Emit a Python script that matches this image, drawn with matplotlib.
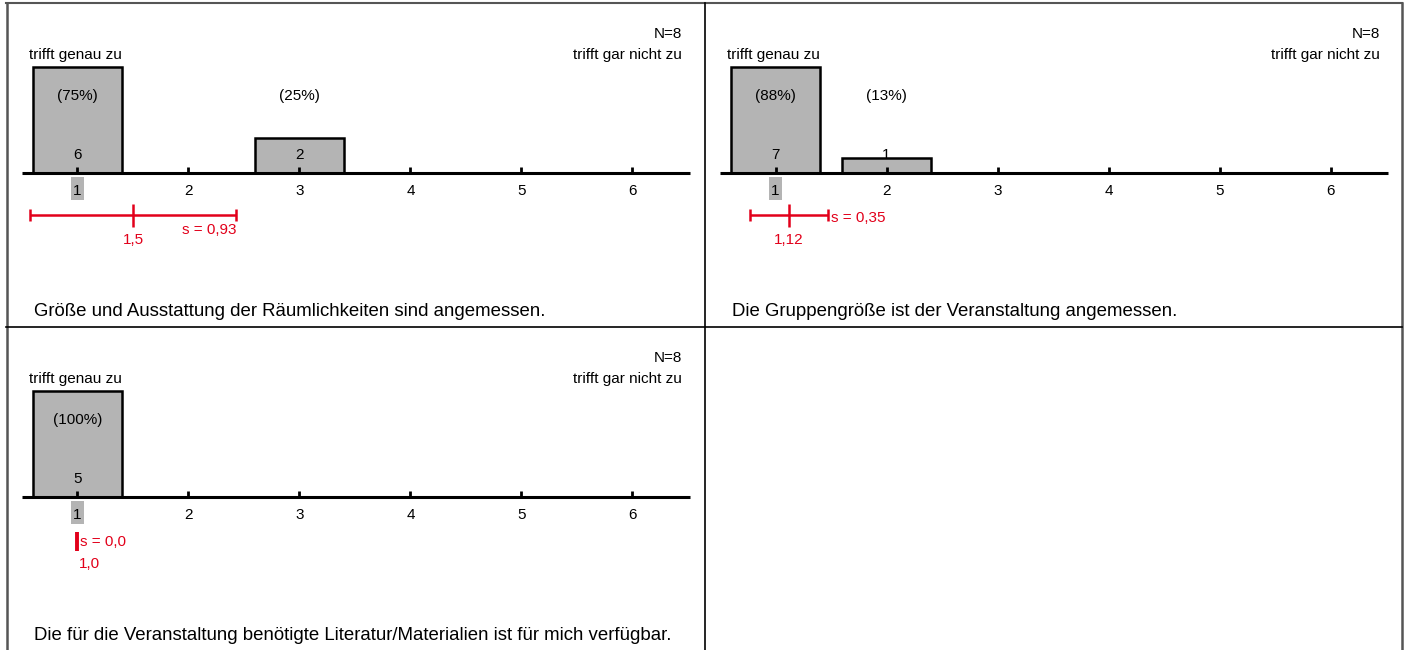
import matplotlib
matplotlib.use("Agg")
import matplotlib.pyplot as plt
from matplotlib.patches import Rectangle
from matplotlib.lines import Line2D

plt.rcParams['font.family'] = ['Liberation Sans', 'DejaVu Sans']

# ---------------- data ----------------
categories = [1, 2, 3, 4, 5, 6]
questions = [
    "Größe und Ausstattung der Räumlichkeiten sind angemessen.",
    "Die Gruppengröße ist der Veranstaltung angemessen.",
    "Die für die Veranstaltung benötigte Literatur/Materialien ist für mich verfügbar.",
]
counts = [
    [6, 0, 2, 0, 0, 0],
    [7, 1, 0, 0, 0, 0],
    [5, 0, 0, 0, 0, 0],
]
percents = [
    [75, 0, 25, 0, 0, 0],
    [88, 13, 0, 0, 0, 0],
    [100, 0, 0, 0, 0, 0],
]
n_values = [8, 8, 8]
means = [1.5, 1.12, 1.0]
sds = [0.93, 0.35, 0.0]
mean_labels = ["1,5", "1,12", "1,0"]
sd_labels = ["s = 0,93", "s = 0,35", "s = 0,0"]
medians = [1, 1, 1]
left_label = "trifft genau zu"
right_label = "trifft gar nicht zu"

# ---------------- layout ----------------
W, H = 1406, 650
fig = plt.figure(figsize=(W / 100, H / 100), dpi=100)

panels = [(6, 3), (704, 3), (6, 327)]
PW, PH = 699, 324
S = 111.0      # px per category
X1 = 71.5      # px of category 1 inside panel
BASE = 170     # px of baseline inside panel
BARH = 106     # px height of the largest bar
RED = '#e2001a'
GRAY = '#b4b4b4'
FS = 11
DY = 2         # text vertical nudge


def fx(xp):
    return 1 + (xp - X1) / S


def fy(yp):
    return BASE - yp


def ft(yp):
    return BASE - yp - DY


for i, (px0, py0) in enumerate(panels):
    ax = fig.add_axes([px0 / W, 1 - (py0 + PH) / H, PW / W, PH / H])
    ax.set_xlim(fx(0), fx(PW))
    ax.set_ylim(fy(PH), fy(0))
    ax.axis('off')

    c = counts[i]
    m = max(c)
    heights = [v / m * BARH for v in c]
    ax.bar(categories, heights, width=0.8, color=GRAY, edgecolor='black',
           linewidth=1.8, zorder=2)
    ax.hlines(0, 0.5, 6.52, colors='black', linewidth=2.2, zorder=3)
    ax.vlines(categories, 0, 6, colors='black', linewidth=2.0, zorder=3)

    # median highlight behind tick label
    ax.add_patch(Rectangle((medians[i] - 6.5 / S, fy(197)), 13 / S, 23,
                           facecolor=GRAY, edgecolor='none', zorder=1))
    for cat in categories:
        ax.text(cat, ft(186), str(cat), ha='center', va='center', fontsize=FS, zorder=4)

    for cat, v, p in zip(categories, c, percents[i]):
        if v > 0:
            ax.text(cat, ft(150), str(v), ha='center', va='center', fontsize=FS, zorder=4)
            ax.text(cat, ft(91), f"({p}%)", ha='center', va='center', fontsize=FS, zorder=4)

    # header
    ax.text(fx(676), ft(29), f"N={n_values[i]}", ha='right', va='center', fontsize=FS)
    ax.text(fx(23), ft(50), left_label, ha='left', va='center', fontsize=FS)
    ax.text(fx(676), ft(50), right_label, ha='right', va='center', fontsize=FS)

    # mean / sd
    mu, sd = means[i], sds[i]
    yl = fy(212)
    if sd > 0:
        ax.hlines(yl, mu - sd, mu + sd, colors=RED, linewidth=1.8)
        ax.vlines([mu - sd, mu + sd], fy(218), fy(206), colors=RED, linewidth=1.8)
        ax.vlines(mu, fy(224), fy(201), colors=RED, linewidth=1.8)
        ax.text(mu, ft(235), mean_labels[i], ha='center', va='center',
                fontsize=FS, color=RED)
    else:
        ax.vlines(mu, fy(224), fy(205), colors=RED, linewidth=2.8)
        ax.text(mu + 1 / S, ft(235), mean_labels[i], ha='left', va='center',
                fontsize=FS, color=RED)
    if 2 * sd > 1:
        ax.text(mu + sd, ft(225), sd_labels[i], ha='right', va='center',
                fontsize=FS, color=RED)
    else:
        ax.text(mu + sd + 3 / S, ft(213), sd_labels[i], ha='left', va='center',
                fontsize=FS, color=RED)

    ax.text(fx(28), ft(307), questions[i], ha='left', va='center', fontsize=13.45)


def fline(x0, y0, x1, y1, color, lw):
    fig.add_artist(Line2D([x0 / W, x1 / W], [1 - y0 / H, 1 - y1 / H],
                          transform=fig.transFigure, color=color, linewidth=lw))


fline(6, 3, 1402, 3, '#555555', 1.5)
fline(6.5, 3, 6.5, 650, '#555555', 1.8)
fline(1402, 3, 1402, 650, '#555555', 1.8)
fline(705, 3, 705, 650, 'black', 1.2)
fline(6, 327, 1402, 327, 'black', 1.2)

fig.savefig("out.png", dpi=100)
